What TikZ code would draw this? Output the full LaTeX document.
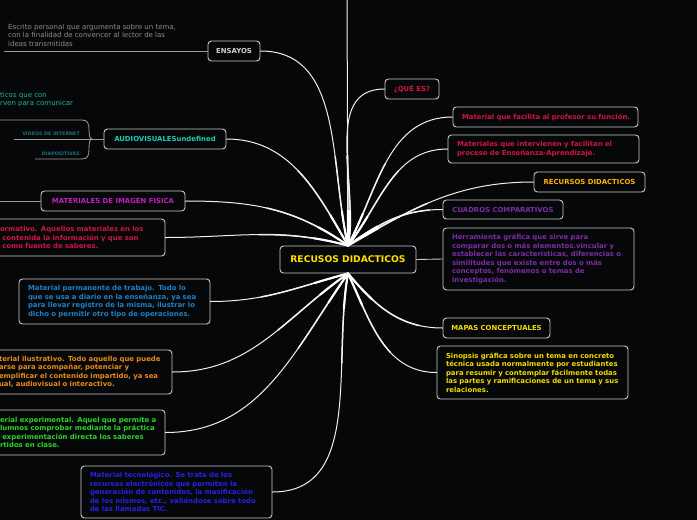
\documentclass[tikz,border=0pt]{standalone}
\usepackage{fontspec}
\setmainfont{DejaVu Sans}
\definecolor{bgc}{HTML}{060709}
\definecolor{bordc}{HTML}{C8C8C8}
\definecolor{linec}{HTML}{F0F0F0}
\definecolor{subc}{HTML}{9A9A9A}
\definecolor{ensc}{HTML}{D0D0D0}
\definecolor{ensdc}{HTML}{8E8E8E}
\definecolor{tealc}{HTML}{1DB5A0}
\definecolor{audc}{HTML}{1FCBB2}
\definecolor{vidc}{HTML}{1B6E7E}
\definecolor{magc}{HTML}{C21FC2}
\definecolor{redc}{HTML}{D0163E}
\definecolor{bluc}{HTML}{1F80C8}
\definecolor{orac}{HTML}{EA8A1C}
\definecolor{grec}{HTML}{2AD62A}
\definecolor{dblc}{HTML}{2323E6}
\definecolor{recc}{HTML}{FFB300}
\definecolor{purc}{HTML}{7B2DA8}
\definecolor{yelc}{HTML}{F2DC00}
\definecolor{cenc}{HTML}{FFE100}
\tikzset{
  box/.style={draw=bordc, line width=0.9pt, rounded corners=3.5pt, fill=bgc,
    inner xsep=9pt, inner ysep=0pt, font=\fontsize{6.9}{8.5}\selectfont\bfseries, align=left},
  lbl/.style={box, align=center, inner xsep=0pt},
  conn/.style={draw=linec, line width=1pt, line cap=round,
    postaction={draw=linec, line width=1.5pt, dash pattern=on 90pt off 2000pt},
    postaction={draw=white, line width=2.1pt, dash pattern=on 35pt off 2000pt}},
  shortconn/.style={draw=bordc, line width=0.9pt},
  sub/.style={draw=subc, line width=0.8pt},
  plain/.style={inner sep=0pt, align=left, font=\fontsize{7}{8.3}\selectfont},
}
\begin{document}
\begin{tikzpicture}[x=1pt,y=-1pt]
\useasboundingbox (0,0) rectangle (697,520);
\clip (0,0) rectangle (697,520);
\fill[bgc] (0,0) rectangle (697,520);

% center
\node[box, font=\fontsize{9.2}{11}\selectfont\bfseries, text=cenc, minimum width=136pt, minimum height=27pt, text width=118pt, align=center] (c) at (348,259.5) {RECUSOS DIDACTICOS};

% left side
\node[lbl, text=ensc, minimum width=52pt, minimum height=20pt] (ens) at (234,51) {ENSAYOS};
\node[plain, anchor=north west, text=ensdc] (ensd) at (8,24) {Escrito personal que argumenta sobre un tema,\\con la finalidad de convencer al lector de las\\ideas transmitidas};
\coordinate (ensl) at (4,51);
\draw[sub] (ensl) -- (ens.west);

\node[plain, anchor=north west, text=tealc] (audd) at (0,92) {ticos que con\\rven para comunicar};
\node[lbl, text=audc, minimum width=122pt, minimum height=20pt] (aud) at (165,139) {AUDIOVISUALESundefined};
\node[inner sep=0pt, anchor=east, text=vidc, font=\fontsize{4.8}{5}\selectfont\bfseries] (vid) at (80,134) {VIDEOS DE INTERNET};
\node[inner sep=0pt, anchor=east, text=vidc, font=\fontsize{4.8}{5}\selectfont\bfseries] (dia) at (80,154) {DIAPOSITIVAS};
\coordinate (audl) at (0,120);
\coordinate (vidl) at (14,139);
\coordinate (dial) at (35,159);
\coordinate (aj) at (92,139);
\draw[sub] (audl) -- (82,120) .. controls (88,120) and (89,124) .. (89,130) .. controls (89,136) and (90,139) .. (aj);
\draw[sub] (dial) -- (82,159) .. controls (88,159) and (89,155) .. (89,149) .. controls (89,142) and (90,139) .. (aj);
\draw[sub] (vidl) -- (aud.west);

\node[lbl, text=magc, minimum width=144pt, minimum height=20pt] (mi) at (113,201) {MATERIALES DE IMAGEN FISICA};
\coordinate (mil) at (0,201);
\draw[sub] (mil) -- (mi.west);

\node[box, text=redc, minimum width=174pt, minimum height=37pt, text width=156pt] (red) at (78,237.5) {\mbox{ormativo. Aquellos materiales en los}\\\mbox{ contenida la información y que son}\\\mbox{  como fuente de saberes.}};
\node[box, text=bluc, minimum width=191pt, minimum height=45pt, text width=173pt] (blu) at (114.5,301.5) {\mbox{Material permanente de trabajo. Todo lo}\\\mbox{que se usa a diario en la enseñanza, ya sea}\\\mbox{para llevar registro de la misma, ilustrar lo}\\\mbox{dicho o permitir otro tipo de operaciones.}};
\node[box, text=orac, minimum width=182pt, minimum height=44pt, text width=164pt] (ora) at (81,372) {\mbox{terial ilustrativo. Todo aquello que puede}\\\mbox{arse para acompañar, potenciar y}\\\mbox{emplificar el contenido impartido, ya sea}\\\mbox{ual, audiovisual o interactivo.}};
\node[box, text=grec, minimum width=174pt, minimum height=45pt, text width=156pt] (gre) at (78,432.5) {\mbox{erial experimental. Aquel que permite a}\\\mbox{lumnos comprobar mediante la práctica}\\\mbox{ experimentación directa los saberes}\\\mbox{rtidos en clase.}};
\node[box, text=dblc, minimum width=191pt, minimum height=52pt, text width=173pt] (dbl) at (176.5,492) {\mbox{Material tecnológico. Se trata de los}\\\mbox{recursos electrónicos que permiten la}\\\mbox{generación de contenidos, la masificación}\\\mbox{de los mismos, etc., valiéndose sobre todo}\\\mbox{de las llamadas TIC.}};

% right side
\node[lbl, text=redc, minimum width=54pt, minimum height=20pt] (que) at (412,89) {¿QUÉ ES?};
\node[box, text=redc, minimum width=185pt, minimum height=20pt, text width=167pt] (fac) at (545.5,117) {\mbox{Material que facilita al profesor su función.}};
\node[box, text=redc, minimum width=191pt, minimum height=28pt, text width=173pt] (int) at (543.5,149) {\mbox{Materiales que intervienen y facilitan el}\\\mbox{proceso de Enseñanza-Aprendizaje.}};
\node[lbl, text=recc, minimum width=111pt, minimum height=20pt] (rec) at (589.5,182) {RECURSOS DIDACTICOS};
\node[lbl, text=purc, minimum width=120pt, minimum height=19pt] (cua) at (503,209.5) {CUADROS COMPARATIVOS};
\node[box, text=purc, minimum width=191pt, minimum height=62pt, text width=173pt] (her) at (538.5,259) {\mbox{Herramienta gráfica que sirve para}\\\mbox{comparar dos o más elementos.vincular y}\\\mbox{establecer las características, diferencias o}\\\mbox{similitudes que existe entre dos o más}\\\mbox{conceptos, fenómenos o temas de}\\\mbox{investigación.}};
\node[lbl, text=yelc, minimum width=107pt, minimum height=20pt] (map) at (496.5,328) {MAPAS CONCEPTUALES};
\node[box, text=yelc, minimum width=191pt, minimum height=53pt, text width=173pt] (sin) at (532.5,372.5) {\mbox{Sinopsis gráfica sobre un tema en concreto}\\\mbox{técnica usada normalmente por estudiantes}\\\mbox{para resumir y contemplar fácilmente todas}\\\mbox{las partes y ramificaciones de un tema y sus}\\\mbox{relaciones.}};

% connectors
\coordinate (top) at (347,0);
\draw[conn] (c.north) -- (top);
\draw[conn] (c.north) to[out=103,in=0] (ens.east);
\draw[conn] (c.north) to[out=120,in=0] (aud.east);
\draw[conn] (c.north) to[out=145,in=0] (mi.east);
\draw[conn] (c.north) to[out=165,in=0] (red.east);
\draw[conn] (c.south) to[out=195,in=0] (blu.east);
\draw[conn] (c.south) to[out=215,in=0] (ora.east);
\draw[conn] (c.south) to[out=235,in=0] (gre.east);
\draw[conn] (c.south) to[out=260,in=0] (dbl.east);
\draw[conn] (c.north) to[out=80,in=180] (que.west);
\draw[conn] (c.north) to[out=62,in=180] (fac.west);
\draw[conn] (c.north) to[out=52,in=180] (int.west);
\draw[conn] (c.north) to[out=30,in=180] (rec.west);
\draw[conn] (c.north) to[out=35,in=180] (cua.west);
\draw[shortconn] (c.east) -- (her.west);
\draw[conn] (c.south) to[out=-50,in=180] (map.west);
\draw[conn] (c.south) to[out=-65,in=180] (sin.west);
\end{tikzpicture}
\end{document}
